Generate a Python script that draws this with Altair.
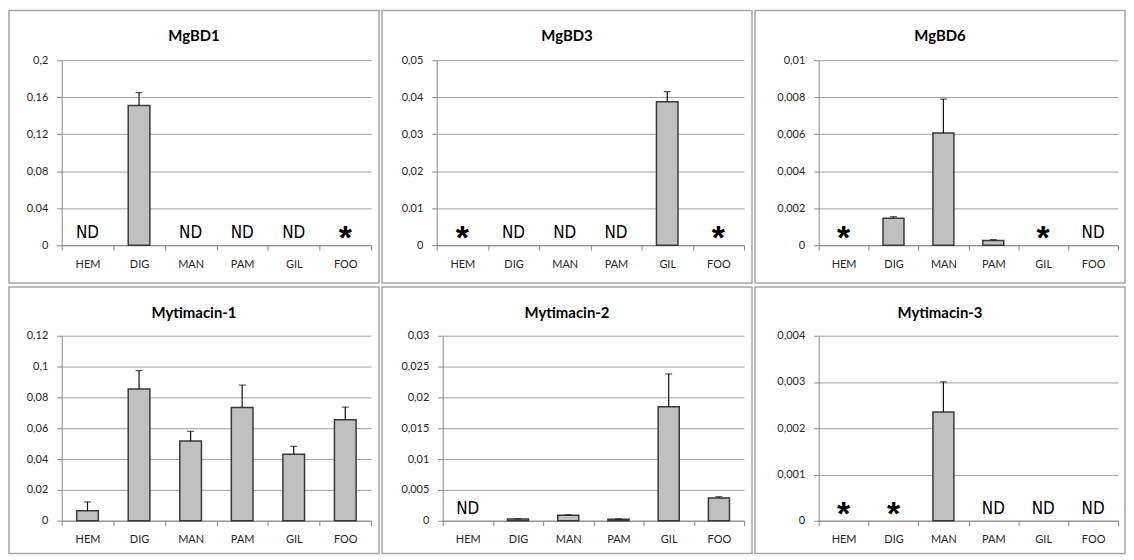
import altair as alt
import pandas as pd

categories = ["HEM", "DIG", "MAN", "PAM", "GIL", "FOO"]
titles = ["MgBD1", "MgBD3", "MgBD6", "Mytimacin-1", "Mytimacin-2", "Mytimacin-3"]

mgbd1_mean = [None, 0.151, None, None, None, None]
mgbd1_upper = [None, 0.165, None, None, None, None]
mgbd1_note = ["ND", "", "ND", "ND", "ND", "*"]
mgbd1_ticks = [0, 0.04, 0.08, 0.12, 0.16, 0.2]

mgbd3_mean = [None, None, None, None, 0.0388, None]
mgbd3_upper = [None, None, None, None, 0.0415, None]
mgbd3_note = ["*", "ND", "ND", "ND", "", "*"]
mgbd3_ticks = [0, 0.01, 0.02, 0.03, 0.04, 0.05]

mgbd6_mean = [None, 0.00146, 0.00607, 0.00025, None, None]
mgbd6_upper = [None, 0.00154, 0.0079, 0.0003, None, None]
mgbd6_note = ["*", "", "", "", "*", "ND"]
mgbd6_ticks = [0, 0.002, 0.004, 0.006, 0.008, 0.01]

myt1_mean = [0.0064, 0.0854, 0.0517, 0.0734, 0.0431, 0.0655]
myt1_upper = [0.0122, 0.0974, 0.058, 0.088, 0.0483, 0.0737]
myt1_note = ["", "", "", "", "", ""]
myt1_ticks = [0, 0.02, 0.04, 0.06, 0.08, 0.1, 0.12]

myt2_mean = [None, 0.00027, 0.0009, 0.00025, 0.0185, 0.0037]
myt2_upper = [None, 0.0003, 0.00095, 0.0003, 0.0238, 0.0039]
myt2_note = ["ND", "", "", "", "", ""]
myt2_ticks = [0, 0.005, 0.01, 0.015, 0.02, 0.025, 0.03]

myt3_mean = [None, None, 0.00235, None, None, None]
myt3_upper = [None, None, 0.0030, None, None, None]
myt3_note = ["*", "*", "", "ND", "ND", "ND"]
myt3_ticks = [0, 0.001, 0.002, 0.003, 0.004]

series = [
    (mgbd1_mean, mgbd1_upper, mgbd1_note, mgbd1_ticks),
    (mgbd3_mean, mgbd3_upper, mgbd3_note, mgbd3_ticks),
    (mgbd6_mean, mgbd6_upper, mgbd6_note, mgbd6_ticks),
    (myt1_mean, myt1_upper, myt1_note, myt1_ticks),
    (myt2_mean, myt2_upper, myt2_note, myt2_ticks),
    (myt3_mean, myt3_upper, myt3_note, myt3_ticks),
]

# layout: (left offset of plot inside panel, plot width)
PANEL_W = 372
layout = [(53, 311), (55, 309), (64, 301), (53, 311), (61, 303), (64, 301)]
row_dims = [(50, 186, 38), (49, 186, 33)]  # top, plot height, bottom

BAR_FILL = "#c0c0c0"
BAR_STROKE = "#3a3a3a"
FONT = "Lato"


def panel(i):
    mean, upper, note, ticks = series[i]
    L, W = layout[i]
    R = PANEL_W - L - W
    T, H, B = row_dims[i // 3]
    df = pd.DataFrame({"cat": categories, "mean": mean, "upper": upper, "note": note})
    bars_df = df[df["mean"].notna()]
    nd_df = df[df["note"] == "ND"]
    star_df = df[df["note"] == "*"]

    xscale = alt.Scale(domain=categories, paddingInner=0, paddingOuter=0)
    yscale = alt.Scale(domain=[0, ticks[-1]], nice=False)
    xaxis = alt.Axis(title=None, labelAngle=0, tickBand="extent", grid=False,
                     tickSize=5, labelPadding=8)
    yaxis = alt.Axis(title=None, values=ticks,
                     labelExpr="replace(format(datum.value, '.4~f'), '.', ',')",
                     tickSize=5, labelPadding=9, grid=True)
    X = alt.X("cat:N", scale=xscale, sort=categories, axis=xaxis)

    frame = pd.DataFrame({"title": [titles[i]]})
    border = alt.Chart(frame).mark_rect(
        fill="white", fillOpacity=0, stroke="#a6a6a6", strokeWidth=1.5
    ).encode(
        x=alt.value(-L), x2=alt.value(W + R), y=alt.value(-T), y2=alt.value(H + B)
    )
    title = alt.Chart(frame).mark_text(
        font=FONT, fontSize=15, fontWeight="bold", color="black",
        baseline="middle", align="center"
    ).encode(
        x=alt.value((W + R - L) / 2), y=alt.value(-T + 26), text="title:N"
    )

    bars = alt.Chart(bars_df).mark_bar(
        width=alt.RelativeBandSize(0.42), fill=BAR_FILL, stroke=BAR_STROKE, strokeWidth=1.5
    ).encode(
        x=X,
        y=alt.Y("mean:Q", scale=yscale, axis=yaxis),
    )

    err = alt.Chart(bars_df).mark_rule(color="#111", strokeWidth=1.2).encode(
        x=X,
        y=alt.Y("mean:Q", scale=yscale, axis=yaxis),
        y2="upper:Q",
    )
    cap = alt.Chart(bars_df).mark_tick(color="#111", size=7, thickness=1.2, orient="horizontal").encode(
        x=X,
        y=alt.Y("upper:Q", scale=yscale, axis=yaxis),
    )

    layers = [bars, err, cap]
    if len(nd_df):
        layers.append(
            alt.Chart(nd_df).mark_text(
                font="Liberation Sans Narrow, DejaVu Sans Condensed, Liberation Sans",
                fontSize=17, color="black", baseline="alphabetic", dy=-7
            ).encode(x=X, y=alt.value(H), text="note:N")
        )
    if len(star_df):
        layers.append(
            alt.Chart(star_df).mark_text(
                font="Liberation Sans", fontSize=34, fontWeight="bold", color="black",
                baseline="alphabetic", dy=4
            ).encode(x=X, y=alt.value(H), text="note:N")
        )
    layers += [border, title]

    return alt.layer(*layers).properties(width=W, height=H)


row1 = alt.hconcat(panel(0), panel(1), panel(2), spacing=1)
row2 = alt.hconcat(panel(3), panel(4), panel(5), spacing=1)

chart = alt.vconcat(row1, row2, spacing=2).properties(
    padding=0, background="white"
).configure_view(stroke=None).configure_axis(
    labelFont=FONT, labelFontSize=11, labelColor="#262626",
    domainColor="#868686", tickColor="#868686", gridColor="#a0a0a0",
    domainWidth=1, tickWidth=1, gridWidth=1,
)

chart.save("out.html", embed_options={"renderer": "svg", "actions": False})
